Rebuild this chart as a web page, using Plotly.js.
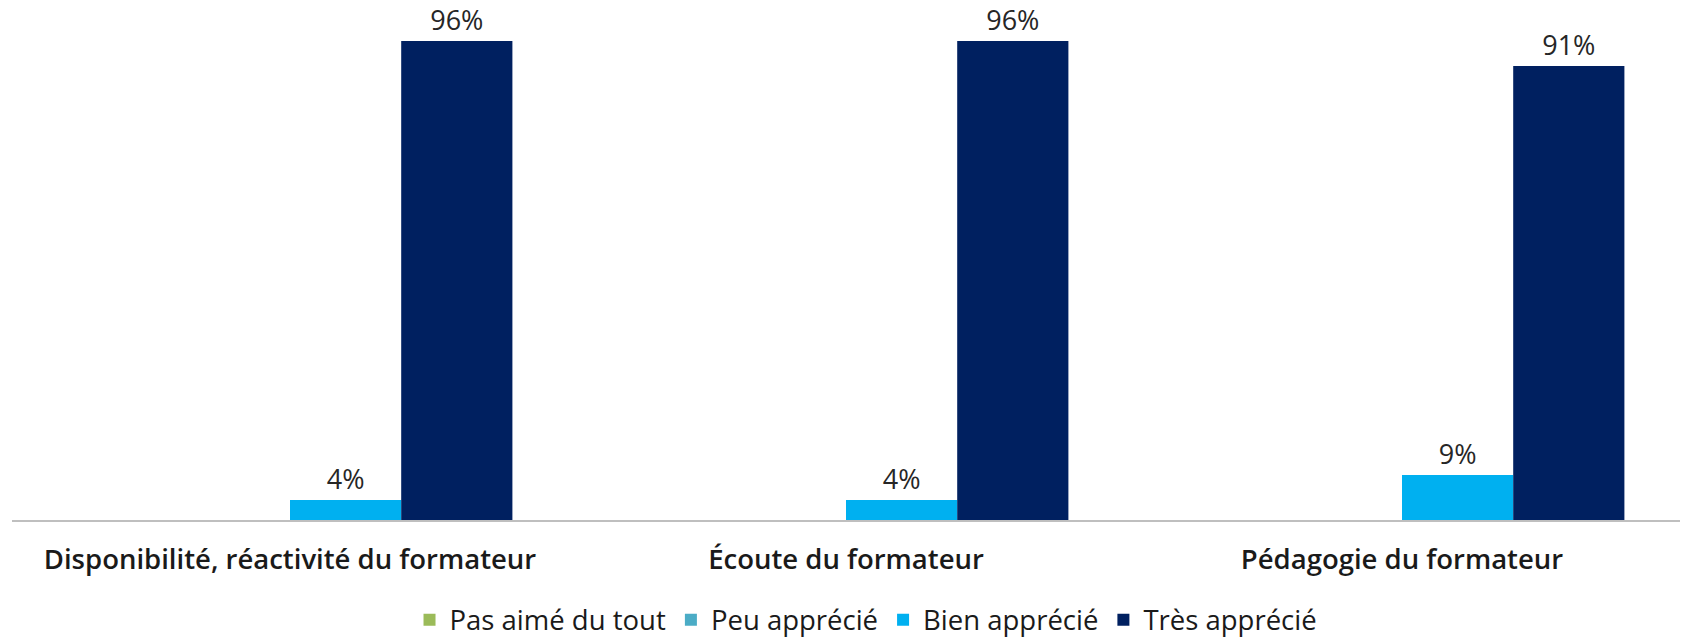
<!DOCTYPE html>
<html>
<head>
<meta charset="utf-8">
<script src="https://cdn.plot.ly/plotly-3.0.1.min.js"></script>
<style>html,body{margin:0;padding:0;background:#fff;}#chart{width:1683px;height:639px;}</style>
</head>
<body>
<div id="chart"></div>
<script>
const categories = ["Disponibilité, réactivité du formateur", "Écoute du formateur", "Pédagogie du formateur"];
const seriesNames = ["Pas aimé du tout", "Peu apprécié", "Bien apprécié", "Très apprécié"];
const pasAime = [0, 0, 0];
const peuApprecie = [0, 0, 0];
const bienApprecie = [4, 4, 9];
const tresApprecie = [96, 96, 91];
const colors = ["#9BBB59", "#4BACC6", "#00B0F0", "#002060"];

const values = [pasAime, peuApprecie, bienApprecie, tresApprecie];
const traces = values.map((v, i) => ({
  type: "bar",
  name: seriesNames[i],
  x: categories,
  y: v,
  marker: {color: colors[i]},
  text: v.map(d => d > 0 ? d + "%" : ""),
  textposition: "outside",
  cliponaxis: false,
  textfont: {family: "Open Sans", size: 27, color: "#262626"},
  hoverinfo: "none"
}));

const layout = {
  width: 1683, height: 639,
  margin: {l: 12, r: 3, t: 21, b: 119, autoexpand: false},
  barmode: "group",
  bargap: 0.2,
  bargroupgap: 0,
  paper_bgcolor: "#ffffff",
  plot_bgcolor: "#ffffff",
  showlegend: true,
  legend: {
    orientation: "h", x: 0.512, xanchor: "center",
    yref: "container", y: 0.03, yanchor: "middle",
    font: {family: "Open Sans", size: 27.5, color: "#1a1a1a"},
    itemwidth: 30, traceorder: "normal"
  },
  xaxis: {
    showline: true, linecolor: "#bfbfbf", linewidth: 2,
    ticks: "", tickfont: {family: "Open Sans", size: 27.5, color: "#1a1a1a", weight: 600},
    ticklabelstandoff: 14,
    showgrid: false, zeroline: false
  },
  yaxis: {
    range: [0, 100], visible: false, showgrid: false, zeroline: false
  }
};

Plotly.newPlot("chart", traces, layout, {displayModeBar: false, staticPlot: true});
</script>
</body>
</html>
